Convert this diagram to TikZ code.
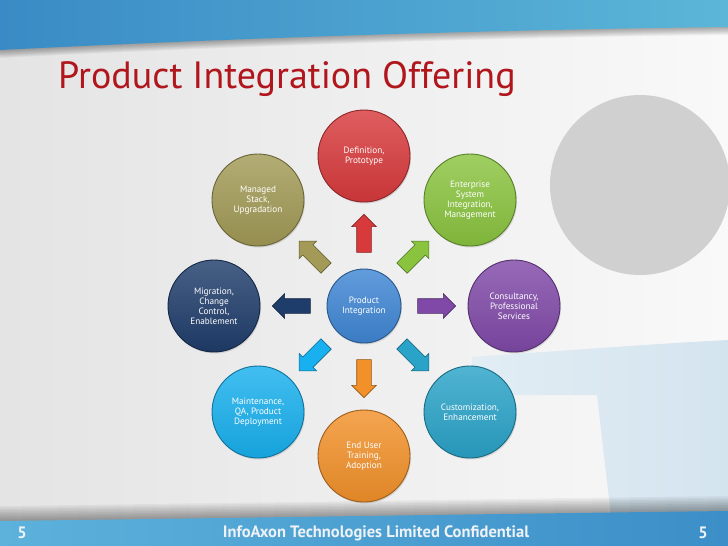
\documentclass[tikz,border=0pt]{standalone}
\usepackage{fontspec}
\setmainfont{PT Sans}
\usetikzlibrary{shapes.arrows,calc,shadows}
\definecolor{bgl}{HTML}{E4E4E4}
\definecolor{bgr}{HTML}{F9F9F9}
\definecolor{bannerL}{HTML}{3A8BC5}
\definecolor{bannerR}{HTML}{5BB6D8}
\definecolor{footL}{HTML}{5CB2DB}
\definecolor{footR}{HTML}{3C8EC8}
\definecolor{greyc}{HTML}{D0D0D0}
\definecolor{lblueL}{HTML}{E2EDF4}
\definecolor{lblueR}{HTML}{D4E4EF}
\definecolor{titlered}{HTML}{B0161C}
\definecolor{footText}{HTML}{EEF2F6}
\definecolor{cRed}{HTML}{D83A3C}
\definecolor{cOlive}{HTML}{A29A56}
\definecolor{cGreen}{HTML}{8AC43F}
\definecolor{cDblue}{HTML}{1F3D6B}
\definecolor{cCblue}{HTML}{3F86D4}
\definecolor{cPurple}{HTML}{8049A8}
\definecolor{cCyan}{HTML}{18B0EE}
\definecolor{cTeal}{HTML}{2AA3C8}
\definecolor{cOrange}{HTML}{F2912A}
\begin{document}
\begin{tikzpicture}[x=1pt,y=-1pt,
  circ/.style={circle, minimum size=92pt, inner sep=0pt, text=white, align=center,
    font=\fontsize{9.2}{10}\selectfont, draw=#1!65!black, line width=0.9pt,
    top color=#1!82!white, bottom color=#1!92!black,
    drop shadow={opacity=0.25,shadow xshift=1pt,shadow yshift=-1.5pt}},
  barrow/.style={single arrow, draw=#1!60!black, fill=#1, line width=0.6pt,
    minimum height=38pt, single arrow head extend=5pt,
    inner xsep=0pt, inner ysep=7pt, outer sep=0pt},
  foottext/.style={text=footText, font=\bfseries\fontsize{16.5}{19}\selectfont}]
\useasboundingbox (0,0) rectangle (728,546);
% background
\shade[left color=bgl, right color=bgr] (0,0) rectangle (728,546);
% big grey circle
\fill[greyc] (640,185) circle (90pt);
% light blue T shape
\shade[left color=lblueL, right color=lblueR] (472,357) .. controls (560,351) and (650,344) .. (728,340)
  -- (728,525) -- (612,525) -- (597,395) -- (472,395) -- cycle;
% banner shadow
\foreach \k in {0,...,9}{
  \draw[black, opacity=0.035, line width={(10-\k)*1.6pt}] (0,50) .. controls (240,38) and (480,30) .. (728,27);}
% top banner
\shade[left color=bannerL, right color=bannerR] (0,0) -- (728,0) -- (728,27)
  .. controls (480,30) and (240,38) .. (0,50) -- cycle;
% footer shadow
\foreach \k in {0,...,9}{
  \draw[black, opacity=0.04, line width={(10-\k)*3pt}] (0,521) .. controls (240,518) and (480,514) .. (728,511);}
% footer
\shade[left color=footL, right color=footR] (0,521) .. controls (240,518) and (480,514) .. (728,511)
  -- (728,546) -- (0,546) -- cycle;
% title
\node[anchor=base west, text=titlered, font=\fontsize{38}{44}\selectfont, inner sep=0pt] (title) at (58,88) {Product Integration Offering};
% footer texts
\node[foottext] (ft) at (376,533) {InfoAxon Technologies Limited Confidential};
\node[foottext] (pl) at (22,533) {5};
\node[foottext] (pr) at (703,533) {5};
% circles
\node[circ=cCblue, minimum size=74pt] (c) at (364,306) {Product\\Integration};
\node[circ=cRed] (def) at (364,156) {Definition,\\Prototype};
\node[circ=cGreen] (ent) at (470,200) {Enterprise\\System\\Integration,\\Management};
\node[circ=cPurple] (con) at (514,306) {Consultancy,\\Professional\\Services};
\node[circ=cTeal] (cus) at (470,412) {Customization,\\Enhancement};
\node[circ=cOrange] (eut) at (364,456) {End User\\Training,\\Adoption};
\node[circ=cCyan] (mnt) at (258,412) {Maintenance,\\QA, Product\\Deployment};
\node[circ=cDblue] (mig) at (214,306) {Migration,\\Change\\Control,\\Enablement};
\node[circ=cOlive] (mgd) at (258,200) {Managed\\Stack,\\Upgradation};
% block arrows
\node[barrow=cRed, rotate=90] (a1) at ($(c)!69pt!(def)$) {};
\node[barrow=cGreen, rotate=45] (a2) at ($(c)!69pt!(ent)$) {};
\node[barrow=cPurple, rotate=0] (a3) at ($(c)!69pt!(con)$) {};
\node[barrow=cTeal, rotate=-45] (a4) at ($(c)!69pt!(cus)$) {};
\node[barrow=cOrange, rotate=-90] (a5) at ($(c)!69pt!(eut)$) {};
\node[barrow=cCyan, rotate=-135] (a6) at ($(c)!69pt!(mnt)$) {};
\node[barrow=cDblue, rotate=180] (a7) at ($(c)!69pt!(mig)$) {};
\node[barrow=cOlive, rotate=135] (a8) at ($(c)!69pt!(mgd)$) {};
\end{tikzpicture}
\end{document}
